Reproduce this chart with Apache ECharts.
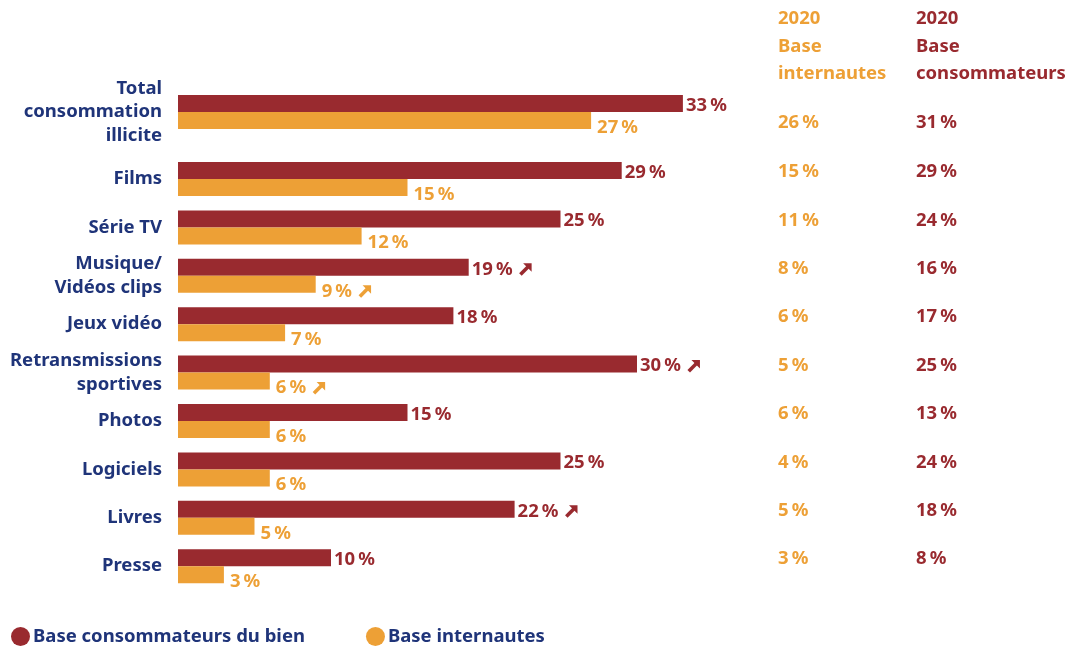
<!DOCTYPE html>
<html>
<head>
<meta charset="utf-8">
<script src="https://cdn.jsdelivr.net/npm/echarts@6/dist/echarts.min.js"></script>
<style>
  html, body { margin: 0; padding: 0; background: #ffffff; }
  #chart { width: 1072px; height: 646px; }
</style>
</head>
<body>
<div id="chart"></div>
<script>
// Categories (first entry is the total, drawn in its own block)
const categories = [
  'Total\nconsommation\nillicite',
  'Films',
  'Série TV',
  'Musique/\nVidéos clips',
  'Jeux vidéo',
  'Retransmissions\nsportives',
  'Photos',
  'Logiciels',
  'Livres',
  'Presse'
];
// Bars
const consommateurs = [33, 29, 25, 19, 18, 30, 15, 25, 22, 10];
const internautes   = [27, 15, 12, 9, 7, 6, 6, 6, 5, 3];
// Upward trend markers next to a bar value (1 = arrow)
const upConsommateurs = [0, 0, 0, 1, 0, 1, 0, 0, 1, 0];
const upInternautes   = [0, 0, 0, 1, 0, 1, 0, 0, 0, 0];
// 2020 reference columns
const internautes2020   = [26, 15, 11, 8, 6, 5, 6, 4, 5, 3];
const consommateurs2020 = [31, 29, 24, 16, 17, 25, 13, 24, 18, 8];

const RED = '#992a2f';
const ORANGE = '#eda036';
const NAVY = '#1f3479';
const FONT = '"Noto Sans", sans-serif';
const FS = 18.5;
const SERIES_RED = 'Base consommateurs du bien';
const SERIES_ORANGE = 'Base internautes';

const pct = v => v + '\u2009%';

// Thick north-east arrow used as a trend marker
const arrowIcon = color => 'data:image/svg+xml;utf8,' + encodeURIComponent(
  '<svg xmlns="http://www.w3.org/2000/svg" width="14" height="14" viewBox="0 0 14 14">' +
  '<polygon points="4.5,1 13,1 13,9.5" fill="' + color + '"/>' +
  '<line x1="1.8" y1="12.2" x2="9.5" y2="4.5" stroke="' + color + '" stroke-width="3.6"/>' +
  '</svg>');

const blocks = [
  { from: 0, to: 1, top: 88, height: 48, colShift: [22, 0, 0, 0] },
  { from: 1, to: 10, top: 154.8, height: 435.6, colShift: [0, 0, 14, 0] }
];

const grid = [], xAxis = [], yAxis = [], series = [];

blocks.forEach((b, gi) => {
  const cats = categories.slice(b.from, b.to);
  const idx = cats.map((_, i) => b.from + i);
  grid.push({ left: 178, width: 612, top: b.top, height: b.height });
  xAxis.push({
    gridIndex: gi, type: 'value', min: 0, max: 40,
    show: false, splitLine: { show: false }
  });
  // left labels
  yAxis.push({
    gridIndex: gi, type: 'category', data: cats, inverse: true,
    axisLine: { show: false }, axisTick: { show: false },
    axisLabel: {
      margin: 16, color: NAVY, fontFamily: FONT, fontWeight: 'bold',
      fontSize: FS, lineHeight: 23.5, align: 'right'
    }
  });
  // right-hand 2020 columns
  yAxis.push({
    gridIndex: gi, type: 'category', data: cats, inverse: true,
    position: 'right', offset: -16,
    axisLine: { show: false }, axisTick: { show: false },
    axisLabel: {
      margin: 4, align: 'left', padding: b.colShift,
      formatter: (v, i) => '{o|' + pct(internautes2020[b.from + i]) + '}{r|' + pct(consommateurs2020[b.from + i]) + '}',
      rich: {
        o: { width: 138, color: ORANGE, fontFamily: FONT, fontWeight: 'bold', fontSize: FS },
        r: { color: RED, fontFamily: FONT, fontWeight: 'bold', fontSize: FS }
      }
    }
  });
  const yi = gi * 2;
  const labelRich = color => ({
    v: { color: color, fontFamily: FONT, fontWeight: 'bold', fontSize: FS },
    a: { width: 14, height: 14, backgroundColor: { image: arrowIcon(color) } },
    s: { width: 6 }
  });
  series.push({
    name: SERIES_RED, type: 'bar', xAxisIndex: gi, yAxisIndex: yi,
    data: idx.map(i => consommateurs[i]), barWidth: 17, barGap: '0%',
    itemStyle: { color: RED },
    label: {
      show: true, position: 'right', distance: 3, offset: [0, 2],
      formatter: p => '{v|' + pct(p.value) + '}' + (upConsommateurs[b.from + p.dataIndex] ? '{s| }{a| }' : ''),
      rich: labelRich(RED)
    }
  });
  series.push({
    name: SERIES_ORANGE, type: 'bar', xAxisIndex: gi, yAxisIndex: yi,
    data: idx.map(i => internautes[i]), barWidth: 17, barGap: '0%',
    itemStyle: { color: ORANGE },
    label: {
      show: true, position: 'right', distance: 6, offset: [0, 7],
      formatter: p => '{v|' + pct(p.value) + '}' + (upInternautes[b.from + p.dataIndex] ? '{s| }{a| }' : ''),
      rich: labelRich(ORANGE)
    }
  });
});

const headerStyle = (color) => ({
  fill: color, font: 'bold ' + FS + 'px ' + FONT, lineHeight: 27.5
});

const chart = echarts.init(document.getElementById('chart'), null, { renderer: 'canvas' });
chart.setOption({
  animation: false,
  backgroundColor: '#ffffff',
  grid, xAxis, yAxis, series,
  legend: {
    left: 6, top: 622, icon: 'circle', itemWidth: 19, itemHeight: 19, itemGap: 61,
    data: [SERIES_RED, SERIES_ORANGE],
    textStyle: { color: NAVY, fontFamily: FONT, fontWeight: 'bold', fontSize: FS, padding: [0, 0, 0, -2] }
  },
  graphic: [
    { type: 'text', left: 778, top: 5, style: Object.assign({ text: '2020\nBase\ninternautes' }, headerStyle(ORANGE)) },
    { type: 'text', left: 916, top: 5, style: Object.assign({ text: '2020\nBase\nconsommateurs' }, headerStyle(RED)) }
  ]
});
</script>
</body>
</html>
